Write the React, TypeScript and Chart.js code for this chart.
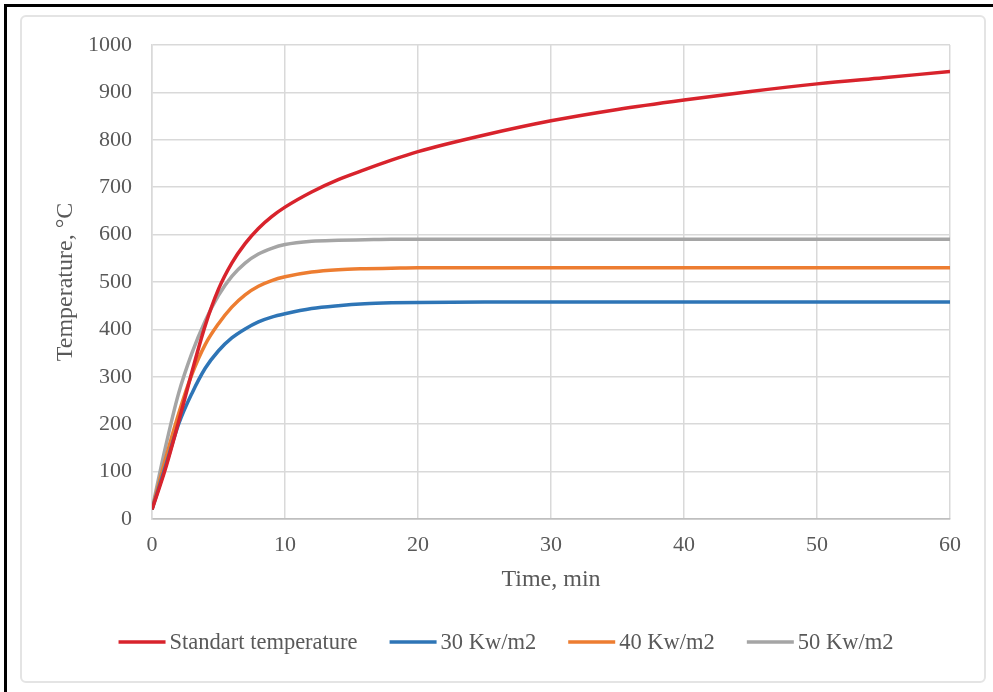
import { useEffect, useRef } from "react";
import { Chart, registerables } from "chart.js";

Chart.register(...registerables);

// Time axis (minutes) at which each series is sampled
const timeMin = [0, 1, 2, 3, 4, 5, 6, 7, 8, 9, 10, 12, 14, 16, 18, 20, 25, 30, 35, 40, 45, 50, 55, 60];

// Standard fire curve temperature, °C
const standardTemp = [20, 105, 205, 310, 408, 485, 540, 581, 613, 638, 658, 690, 716, 737, 757, 775, 810, 840, 864, 884, 902, 918, 931, 944];
// Gas temperature under 30 kW/m² heat flux, °C
const flux30 = [20, 110, 200, 265, 318, 355, 382, 401, 416, 426, 433, 444, 450, 454, 456, 457, 458, 458, 458, 458, 458, 458, 458, 458];
// Gas temperature under 40 kW/m² heat flux, °C
const flux40 = [20, 125, 222, 305, 368, 412, 447, 473, 491, 503, 511, 521, 526, 528, 529, 530, 530, 530, 530, 530, 530, 530, 530, 530];
// Gas temperature under 50 kW/m² heat flux, °C
const flux50 = [20, 150, 265, 350, 418, 472, 512, 540, 559, 571, 579, 586, 588, 589, 590, 590, 590, 590, 590, 590, 590, 590, 590, 590];

const seriesLabels = ["Standart temperature", "30 Kw/m2", "40 Kw/m2", "50 Kw/m2"];
const seriesColors = ["#d8232c", "#2e75b6", "#ed7d31", "#a5a5a5"];
const seriesValues = [standardTemp, flux30, flux40, flux50];

const xTitle = "Time, min";
const yTitle = "Temperature, °C";

const FONT = '"Liberation Serif", "Times New Roman", serif';
const TEXT = "#595959";
const GRID = "#d9d9d9";
const AXIS = "#bfbfbf";

// Horizontal legend with a short line sample in front of each label
const lineLegend = {
  id: "lineLegend",
  afterDraw(chart: any, _args: any, opts: any) {
    const ctx = chart.ctx as CanvasRenderingContext2D;
    ctx.save();
    ctx.font = `${opts.fontSize}px ${FONT}`;
    const items = chart.data.datasets.map((ds: any) => ({
      label: ds.label as string,
      color: ds.borderColor as string,
      w: ctx.measureText(ds.label).width,
    }));
    const total =
      items.reduce((s: number, it: any) => s + opts.lineLen + opts.gap + it.w, 0) +
      opts.spacing * (items.length - 1);
    let x = opts.centerX - total / 2;
    const y = opts.y;
    ctx.textBaseline = "middle";
    ctx.textAlign = "left";
    for (const it of items) {
      ctx.strokeStyle = it.color;
      ctx.lineWidth = opts.lineWidth;
      ctx.lineCap = "butt";
      ctx.beginPath();
      ctx.moveTo(x, y);
      ctx.lineTo(x + opts.lineLen, y);
      ctx.stroke();
      x += opts.lineLen + opts.gap;
      ctx.fillStyle = TEXT;
      ctx.fillText(it.label, x, y + 1);
      x += it.w + opts.spacing;
    }
    ctx.restore();
  },
};

export default function App() {
  const canvasRef = useRef<HTMLCanvasElement | null>(null);

  useEffect(() => {
    const canvas = canvasRef.current;
    if (!canvas) return;

    const datasets = seriesLabels.map((label, i) => ({
      label,
      data: timeMin.map((t, j) => ({ x: t, y: seriesValues[i][j] })),
      borderColor: seriesColors[i],
      backgroundColor: seriesColors[i],
      borderWidth: 3.5,
      pointRadius: 0,
      fill: false,
      cubicInterpolationMode: "monotone" as const,
    }));

    const chart = new Chart(canvas, {
      type: "line",
      data: { datasets },
      plugins: [lineLegend],
      options: {
        animation: false,
        responsive: false,
        devicePixelRatio: 1,
        layout: { padding: { top: 45, right: 43, left: 0, bottom: 93 } },
        plugins: {
          legend: { display: false },
          tooltip: { enabled: false },
          lineLegend: {
            fontSize: 22.5,
            lineLen: 47,
            gap: 4,
            spacing: 32,
            lineWidth: 3.5,
            centerX: 506,
            y: 642,
          },
        } as any,
        scales: {
          x: {
            type: "linear",
            min: 0,
            max: 60,
            ticks: {
              stepSize: 10,
              color: TEXT,
              padding: 13,
              font: { family: FONT, size: 22 },
              maxRotation: 0,
              callback: (v: any) => String(v),
            },
            grid: { color: GRID, lineWidth: 1.5, drawTicks: false },
            border: { color: AXIS, width: 1.5 },
            title: {
              display: true,
              text: xTitle,
              color: TEXT,
              font: { family: FONT, size: 24 },
              padding: { top: 0, bottom: 5 },
            },
            afterFit: (s: any) => {
              s.height = 80;
            },
          },
          y: {
            min: 0,
            max: 1000,
            ticks: {
              stepSize: 100,
              color: TEXT,
              padding: 20,
              font: { family: FONT, size: 22 },
              callback: (v: any) => String(v),
            },
            grid: {
              color: (c: any) => (c.tick && c.tick.value === 0 ? AXIS : GRID),
              lineWidth: 1.5,
              drawTicks: false,
            },
            border: { color: GRID, width: 1.5 },
            title: {
              display: true,
              text: yTitle,
              color: TEXT,
              font: { family: FONT, size: 24 },
              padding: { top: 51, bottom: 0 },
            },
            afterFit: (s: any) => {
              s.width = 152;
            },
          },
        },
      },
    });

    return () => chart.destroy();
  }, []);

  return (
    <div
      style={{
        position: "fixed",
        left: 0,
        top: 0,
        width: 993,
        height: 692,
        background: "#ffffff",
        overflow: "hidden",
      }}
    >
      <div
        style={{
          position: "absolute",
          left: 4,
          top: 4,
          width: 989,
          height: 688,
          boxSizing: "border-box",
          borderTop: "3px solid #000",
          borderLeft: "3px solid #000",
        }}
      />
      <div
        style={{
          position: "absolute",
          left: 20,
          top: 15,
          width: 966,
          height: 668,
          boxSizing: "border-box",
          border: "2px solid #e4e4e4",
          borderRadius: 6,
        }}
      />
      <canvas
        ref={canvasRef}
        width={993}
        height={692}
        style={{ position: "absolute", left: 0, top: 0, width: 993, height: 692 }}
      />
    </div>
  );
}
